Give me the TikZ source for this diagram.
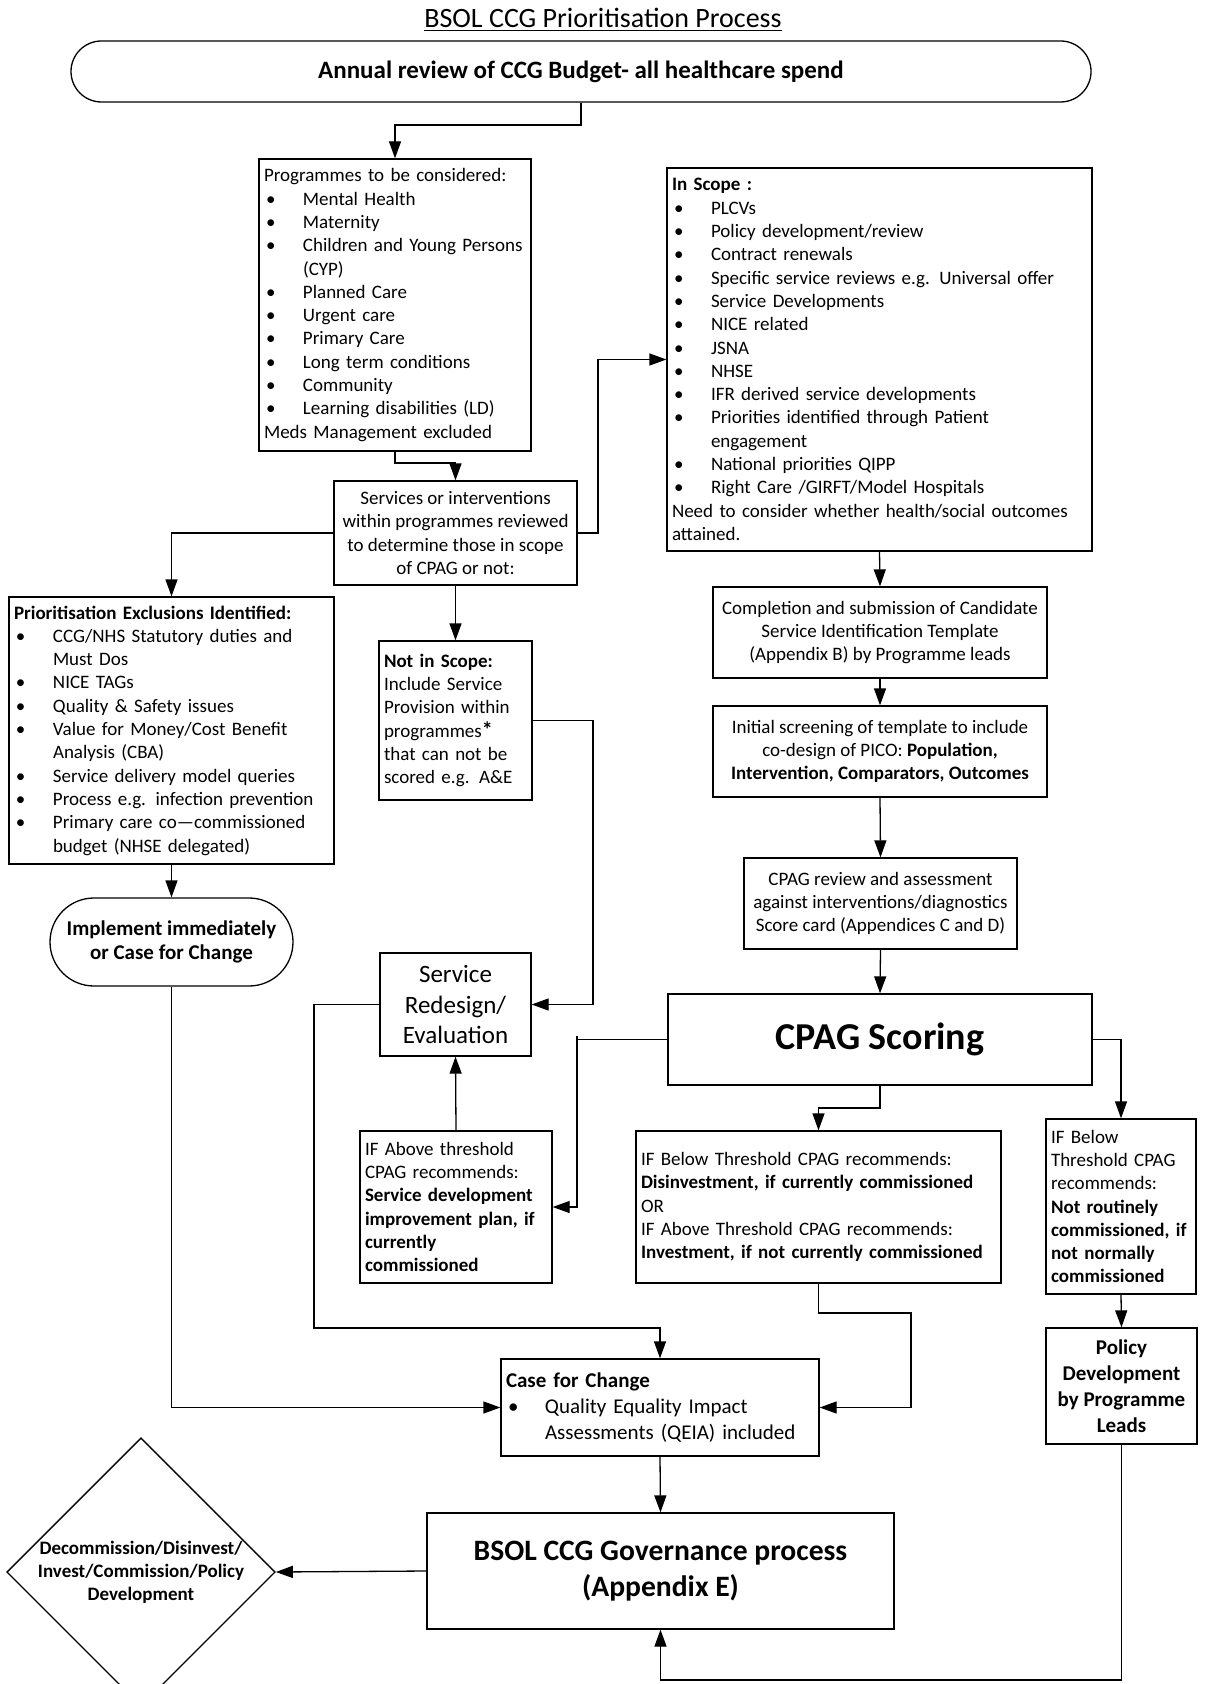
\documentclass[tikz,border=0pt]{standalone}
\usepackage{fontspec}
\setmainfont{Carlito}
\usetikzlibrary{arrows.meta,shapes.geometric}
\newcommand\BItem[1]{\mbox{\makebox[19.5pt][l]{\hspace{1pt}\textbullet}#1}}
\newcommand\CItem[1]{\mbox{\hspace*{19.5pt}#1}}
\newcommand\PItem[1]{\mbox{#1}}
\tikzset{
  box/.style={draw, line width=0.65pt, rectangle, inner xsep=2.5pt, inner ysep=1pt,
    font=\fontsize{9.5}{11.65}\selectfont},
  lbox/.style={box, align=left},
  cbox/.style={box, align=center},
  arr/.style={line width=0.65pt, -{Triangle[length=8.5pt,width=6pt]}},
}
\begin{document}
\begin{tikzpicture}[x=0.5pt,y=-0.5pt]
\useasboundingbox (0,0) rectangle (1205,1684);
\fill[white] (0,0) rectangle (1205,1684);

\node[font=\fontsize{14}{17}\selectfont] (title) at (603,20) {\underline{BSOL CCG Prioritisation Process}};

\node[cbox, rounded corners=15.25pt, minimum width=510pt, minimum height=30.5pt,
  font=\bfseries\fontsize{12.5}{15}\selectfont] (term) at (581,71.5)
  {Annual review of CCG Budget- all healthcare spend};

\node[lbox, text width=131pt, minimum height=146pt] (prog) at (395,305) {%
\PItem{Programmes to be considered:}\\
\BItem{Mental Health}\\
\BItem{Maternity}\\
\BItem{Children and Young Persons}\\
\CItem{(CYP)}\\
\BItem{Planned Care}\\
\BItem{Urgent care}\\
\BItem{Primary Care}\\
\BItem{Long term conditions}\\
\BItem{Community}\\
\BItem{Learning disabilities (LD)}\\
\PItem{Meds Management excluded}};

\node[cbox, minimum width=121.5pt, minimum height=52pt] (serv) at (455.5,533)
  {Services or interventions\\within programmes reviewed\\to determine those in scope\\of CPAG or not:};

\node[lbox, text width=207.5pt, minimum height=191.5pt] (inscope) at (879.5,359.5) {%
\PItem{\textbf{In Scope :}}\\
\BItem{PLCVs}\\
\BItem{Policy development/review}\\
\BItem{Contract renewals}\\
\BItem{Specific service reviews e.g. Universal offer}\\
\BItem{Service Developments}\\
\BItem{NICE related}\\
\BItem{JSNA}\\
\BItem{NHSE}\\
\BItem{IFR derived service developments}\\
\BItem{Priorities identified through Patient}\\
\CItem{engagement}\\
\BItem{National priorities QIPP}\\
\BItem{Right Care /GIRFT/Model Hospitals}\\
\PItem{Need to consider whether health/social outcomes}\\
\PItem{attained.}};

\node[lbox, text width=157.5pt, minimum height=133.5pt] (prior) at (171.5,730.5) {%
\PItem{\textbf{Prioritisation Exclusions Identified:}}\\
\BItem{CCG/NHS Statutory duties and}\\
\CItem{Must Dos}\\
\BItem{NICE TAGs}\\
\BItem{Quality \& Safety issues}\\
\BItem{Value for Money/Cost Benefit}\\
\CItem{Analysis (CBA)}\\
\BItem{Service delivery model queries}\\
\BItem{Process e.g. infection prevention}\\
\BItem{Primary care co—commissioned}\\
\CItem{budget (NHSE delegated)}};

\node[lbox, text width=71.5pt, minimum height=79.5pt] (notin) at (455.5,720.5) {%
\PItem{\textbf{Not in Scope:}}\\
\PItem{Include Service}\\
\PItem{Provision within}\\
\PItem{programmes{\fontsize{11}{11}\selectfont\textbf{*}}}\\
\PItem{that can not be}\\
\PItem{scored e.g. A\&E}};

\node[cbox, rounded corners=22pt, minimum width=121.5pt, minimum height=44pt,
  font=\bfseries\fontsize{10.5}{12.4}\selectfont] (impl) at (171.5,942)
  {Implement immediately\\or Case for Change};

\node[cbox, minimum width=167pt, minimum height=45.5pt] (compl) at (880,632.5)
  {Completion and submission of Candidate\\Service Identification Template\\(Appendix B) by Programme leads};

\node[cbox, minimum width=167pt, minimum height=45.5pt] (init) at (880,751.5)
  {Initial screening of template to include\\co-design of PICO: \textbf{Population,}\\\textbf{Intervention, Comparators, Outcomes}};

\node[cbox, minimum width=136.5pt, minimum height=45.5pt] (review) at (880.5,903.5)
  {CPAG review and assessment\\against interventions/diagnostics\\Score card (Appendices C and D)};

\node[cbox, minimum width=212pt, minimum height=45.5pt,
  font=\bfseries\fontsize{19}{23}\selectfont] (scoring) at (880,1039.5) {CPAG Scoring};

\node[cbox, minimum width=75.5pt, minimum height=51.5pt,
  font=\fontsize{12.5}{15.3}\selectfont] (redesign) at (455.5,1004.5) {Service\\Redesign/\\Evaluation};

\node[lbox, text width=91pt, minimum height=76pt] (above) at (456,1207) {%
\PItem{IF Above threshold}\\
\PItem{CPAG recommends:}\\
\PItem{\textbf{Service development}}\\
\PItem{\textbf{improvement plan, if}}\\
\PItem{\textbf{currently}}\\
\PItem{\textbf{commissioned}}};

\node[lbox, text width=177.5pt, minimum height=76pt] (middle) at (818.5,1207) {%
\PItem{IF Below Threshold CPAG recommends:}\\
\PItem{\textbf{Disinvestment, if currently commissioned}}\\
\PItem{OR}\\
\PItem{IF Above Threshold CPAG recommends:}\\
\PItem{\textbf{Investment, if not currently commissioned}}};

\node[lbox, text width=70pt, minimum height=87.5pt] (right) at (1121,1206.5) {%
\PItem{IF Below}\\
\PItem{Threshold CPAG}\\
\PItem{recommends:}\\
\PItem{\textbf{Not routinely}}\\
\PItem{\textbf{commissioned, if}}\\
\PItem{\textbf{not normally}}\\
\PItem{\textbf{commissioned}}};

\node[cbox, minimum width=75.5pt, minimum height=58pt,
  font=\bfseries\fontsize{10.5}{12.9}\selectfont] (policy) at (1121.5,1386)
  {Policy\\Development\\by Programme\\Leads};

\node[lbox, text width=154pt, minimum height=48.5pt,
  font=\fontsize{10.5}{13}\selectfont] (cfc) at (660,1407.5) {%
\PItem{\textbf{Case for Change}}\\
\BItem{Quality Equality Impact}\\
\CItem{Assessments (QEIA) included}};

\node[cbox, minimum width=233.5pt, minimum height=58pt,
  font=\bfseries\fontsize{14.8}{17.9}\selectfont] (gov) at (660.5,1571)
  {BSOL CCG Governance process\\(Appendix E)};

\node[draw, line width=0.65pt, diamond, minimum width=132.5pt, minimum height=116pt,
  inner sep=0pt, align=center, font=\bfseries\fontsize{9.5}{11.5}\selectfont] (dia) at (141,1572)
  {Decommission/Disinvest/\\Invest/Commission/Policy\\Development};

% connectors
\draw[arr] (term.south) -- (581,125) -| (prog.north);
\draw[arr] (prog.south) -- (395,463) -| (serv.north);
\draw[arr] (serv.east) -- (598,533) |- (inscope.west);
\draw[arr] (serv.west) -| (prior.north);
\draw[arr] (serv.south) -- (notin.north);
\draw[arr] (notin.east) -- (593,720.5) |- (redesign.east);
\draw[arr] (prior.south) -- (impl.north);
\draw[arr] (impl.south) |- (cfc.west);
\draw[arr] (inscope.south) -- (compl.north);
\draw[arr] (compl.south) -- (init.north);
\draw[arr] (init.south) -- (review.north);
\draw[arr] (review.south) -- (scoring.north);
\draw[arr] (scoring.west) -- (577,1039.5) |- (above.east);
\draw[line width=0.65pt] (577,1036) -- (577,1040);
\draw[arr] (above.north) -- (redesign.south);
\draw[arr] (redesign.west) -| (314,1328) -| (cfc.north);
\draw[arr] (scoring.south) -- (880,1108) -| (middle.north);
\draw[arr] (middle.south) -- (818.5,1313) -| (911,1407.5) -- (cfc.east);
\draw[arr] (scoring.east) -| (right.north);
\draw[arr] (right.south) -- (policy.north);
\draw[arr] (policy.south) -- (1121.5,1680) -| (gov.south);
\draw[arr] (cfc.south) -- (gov.north);
\draw[arr] (gov.west) -- (dia.east);
\end{tikzpicture}
\end{document}
